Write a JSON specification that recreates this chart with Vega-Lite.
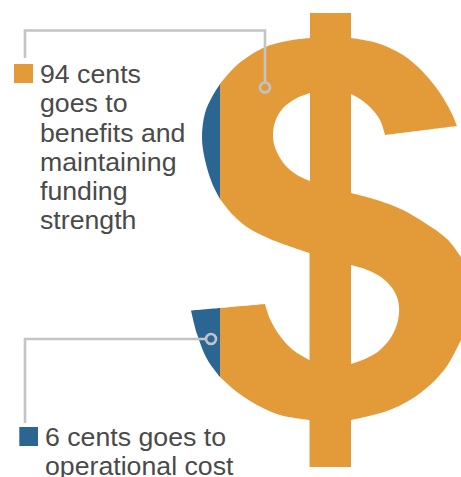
{"$schema":"https://vega.github.io/schema/vega-lite/v6.json","width":461,"height":477,"padding":0,"autosize":{"type":"none"},"background":"white","view":{"stroke":null},
"datasets":{
"main":[{"x":310,"y":13},{"x":310,"y":13},{"x":351,"y":13},{"x":351,"y":13},{"x":351,"y":38},{"x":351,"y":38},{"x":377,"y":43},{"x":403,"y":55},{"x":423,"y":72},{"x":440,"y":93},{"x":452,"y":114},{"x":457,"y":126},{"x":457,"y":126},{"x":385,"y":135},{"x":385,"y":135},{"x":380,"y":120},{"x":370,"y":107},{"x":360,"y":99},{"x":351,"y":94},{"x":351,"y":94},{"x":351,"y":193},{"x":351,"y":193},{"x":377,"y":200},{"x":403,"y":210},{"x":425,"y":223},{"x":447,"y":239},{"x":461,"y":257},{"x":461,"y":257},{"x":461,"y":340},{"x":461,"y":340},{"x":447,"y":366},{"x":430,"y":385},{"x":410,"y":400},{"x":387,"y":411},{"x":351,"y":420},{"x":351,"y":420},{"x":351,"y":467},{"x":351,"y":467},{"x":309.5,"y":467},{"x":309.5,"y":467},{"x":309.5,"y":420},{"x":309.5,"y":420},{"x":280,"y":415},{"x":257,"y":405},{"x":237,"y":392},{"x":220,"y":377},{"x":220,"y":377},{"x":220,"y":308},{"x":220,"y":308},{"x":265,"y":304},{"x":265,"y":304},{"x":270,"y":319},{"x":280,"y":336},{"x":293,"y":350},{"x":309.5,"y":360},{"x":309.5,"y":360},{"x":309.5,"y":253},{"x":309.5,"y":253},{"x":270,"y":239},{"x":247,"y":227},{"x":233,"y":215},{"x":220,"y":199},{"x":220,"y":199},{"x":220,"y":84},{"x":220,"y":84},{"x":237,"y":65},{"x":263,"y":48},{"x":287,"y":41},{"x":310,"y":38},{"x":310,"y":38}],
"upperCounter":[{"x":310,"y":93},{"x":310,"y":93},{"x":297,"y":98},{"x":283,"y":108},{"x":275,"y":122},{"x":273,"y":137},{"x":276,"y":150},{"x":285,"y":165},{"x":297,"y":175},{"x":310,"y":181},{"x":310,"y":181}],
"lowerCounter":[{"x":351,"y":265},{"x":351,"y":265},{"x":370,"y":271},{"x":387,"y":282},{"x":397,"y":297},{"x":399,"y":314},{"x":393,"y":334},{"x":380,"y":350},{"x":367,"y":358},{"x":351,"y":364},{"x":351,"y":364}],
"blueTop":[{"x":220,"y":84},{"x":220,"y":84},{"x":212,"y":97},{"x":205,"y":113},{"x":202,"y":138},{"x":205,"y":160},{"x":212,"y":183},{"x":220,"y":199},{"x":220,"y":199}],
"blueBottom":[{"x":191,"y":310.5},{"x":191,"y":310.5},{"x":220,"y":308},{"x":220,"y":308},{"x":220,"y":377},{"x":220,"y":377},{"x":207,"y":359},{"x":197,"y":334},{"x":191,"y":310.5},{"x":191,"y":310.5}],
"leaderTop":[{"x":25,"y":58},{"x":25,"y":30.5},{"x":265,"y":30.5},{"x":265,"y":82}],
"leaderBottom":[{"x":25,"y":423},{"x":25,"y":339},{"x":205,"y":339}],
"dots":[{"x":265,"y":87.5},{"x":211,"y":339}],
"swatches":[{"x":14,"x2":33,"y":64,"y2":83,"c":"#E39B39"},{"x":19.3,"x2":38,"y":427,"y2":446,"c":"#2B6591"}],
"labels":[{"x":40,"y":83,"t":"94 cents"},{"x":40,"y":112,"t":"goes to"},{"x":40,"y":141.5,"t":"benefits and"},{"x":40,"y":171,"t":"maintaining"},{"x":40,"y":200,"t":"funding"},{"x":40,"y":229,"t":"strength"},{"x":45,"y":446,"t":"6 cents goes to"},{"x":45,"y":474.5,"t":"operational cost"}]
},
"encoding":{
"x":{"field":"x","type":"quantitative","scale":{"domain":[0,461],"nice":false,"zero":false},"axis":null},
"y":{"field":"y","type":"quantitative","scale":{"domain":[477,0],"nice":false,"zero":false},"axis":null}
},
"layer":[
{"data":{"name":"main"},"transform":[{"window":[{"op":"row_number","as":"i"}]}],"mark":{"type":"line","interpolate":"catmull-rom","fill":"#E39B39","strokeWidth":0},"encoding":{"order":{"field":"i","type":"quantitative"}}},
{"data":{"name":"upperCounter"},"transform":[{"window":[{"op":"row_number","as":"i"}]}],"mark":{"type":"line","interpolate":"catmull-rom","fill":"#FFFFFF","strokeWidth":0},"encoding":{"order":{"field":"i","type":"quantitative"}}},
{"data":{"name":"lowerCounter"},"transform":[{"window":[{"op":"row_number","as":"i"}]}],"mark":{"type":"line","interpolate":"catmull-rom","fill":"#FFFFFF","strokeWidth":0},"encoding":{"order":{"field":"i","type":"quantitative"}}},
{"data":{"name":"blueTop"},"transform":[{"window":[{"op":"row_number","as":"i"}]}],"mark":{"type":"line","interpolate":"catmull-rom","fill":"#2B6591","strokeWidth":0},"encoding":{"order":{"field":"i","type":"quantitative"}}},
{"data":{"name":"blueBottom"},"transform":[{"window":[{"op":"row_number","as":"i"}]}],"mark":{"type":"line","interpolate":"catmull-rom","fill":"#2B6591","strokeWidth":0},"encoding":{"order":{"field":"i","type":"quantitative"}}},
{"data":{"name":"leaderTop"},"transform":[{"window":[{"op":"row_number","as":"i"}]}],"mark":{"type":"line","stroke":"#C2C4C6","strokeWidth":2.6},"encoding":{"order":{"field":"i","type":"quantitative"}}},
{"data":{"name":"leaderBottom"},"transform":[{"window":[{"op":"row_number","as":"i"}]}],"mark":{"type":"line","stroke":"#C2C4C6","strokeWidth":2.6},"encoding":{"order":{"field":"i","type":"quantitative"}}},
{"data":{"name":"dots"},"mark":{"type":"point","shape":"circle","size":100,"filled":false,"stroke":"#BFC2C6","strokeWidth":2.6,"opacity":1}},
{"data":{"name":"swatches"},"mark":{"type":"rect"},"encoding":{"x2":{"field":"x2"},"y2":{"field":"y2"},"fill":{"field":"c","type":"nominal","scale":null}}},
{"data":{"name":"labels"},"mark":{"type":"text","align":"left","baseline":"alphabetic","font":"Liberation Sans","fontSize":26.7,"fill":"#4A4A4A"},"encoding":{"text":{"field":"t"}}}
]}
